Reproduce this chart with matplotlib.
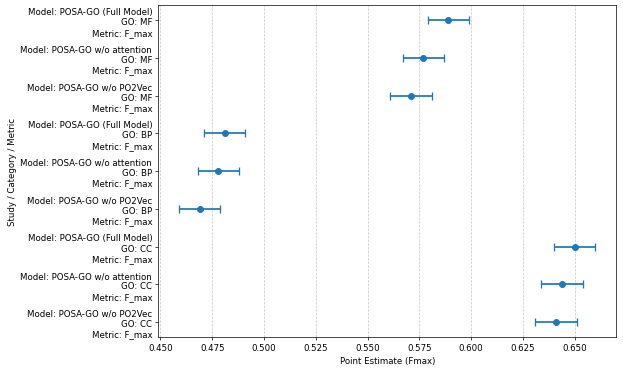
import matplotlib
matplotlib.use("Agg")
import matplotlib.pyplot as plt

# Данные: модели, категории GO, оценки Fmax и полуширина интервала
models = ["POSA-GO (Full Model)", "POSA-GO w/o attention", "POSA-GO w/o PO2Vec"] * 3
go_terms = ["MF"] * 3 + ["BP"] * 3 + ["CC"] * 3
estimates = [0.589, 0.577, 0.571, 0.481, 0.478, 0.469, 0.650, 0.644, 0.641]
errors = [0.010] * 9

labels = [f"Model: {m}\nGO: {g}\nMetric: F_max" for m, g in zip(models, go_terms)]
ypos = list(range(len(labels)))

fig = plt.figure(figsize=(10, 5.97), dpi=62.3)
ax = fig.add_axes([0.254, 0.091, 0.735, 0.893])

ax.errorbar(estimates, ypos, xerr=errors, fmt='o', capsize=5, color='C0',
            elinewidth=2, markersize=7, capthick=1.5)

ax.set_yticks(ypos)
ax.set_yticklabels(labels)
ax.invert_yaxis()
ax.grid(axis='x', linestyle='--', alpha=0.7)
ax.set_xlabel('Point Estimate (Fmax)')
ax.set_ylabel('Study / Category / Metric')

fig.savefig('out.png', dpi=62.3)
